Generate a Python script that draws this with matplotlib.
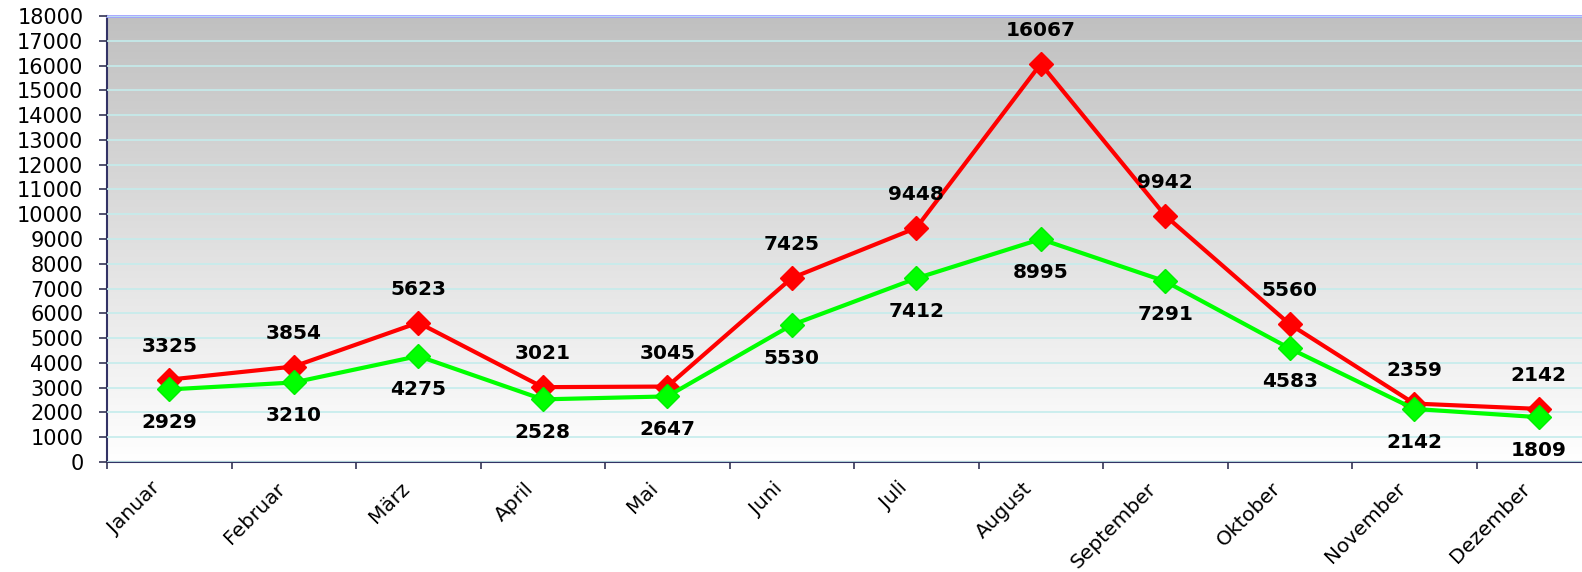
import matplotlib
matplotlib.use("Agg")
import matplotlib.pyplot as plt
import matplotlib.transforms as mtransforms
import numpy as np
from matplotlib.colors import LinearSegmentedColormap

months = ["Januar", "Februar", "März", "April", "Mai", "Juni", "Juli",
          "August", "September", "Oktober", "November", "Dezember"]
red_values = [3325, 3854, 5623, 3021, 3045, 7425, 9448, 16067, 9942, 5560, 2359, 2142]
green_values = [2929, 3210, 4275, 2528, 2647, 5530, 7412, 8995, 7291, 4583, 2142, 1809]
y_ticks = list(range(0, 18001, 1000))

plt.rcParams['font.family'] = ['DejaVu Sans']

W, H = 1582, 572
fig = plt.figure(figsize=(W / 100, H / 100), dpi=100)
left, right, top, bottom = 107, 1601, 16, 462
ax = fig.add_axes([left / W, 1 - bottom / H, (right - left) / W, (bottom - top) / H])

n = len(months)
x = np.arange(n) + 0.5
ax.set_xlim(0, n)
ax.set_ylim(0, 18000)

# gradient background
cmap = LinearSegmentedColormap.from_list("bg", ["#ffffff", "#c0c0c0"])
grad = np.linspace(0, 1, 256).reshape(-1, 1)
ax.imshow(grad, extent=[0, n, 0, 18000], origin="lower", aspect="auto",
          cmap=cmap, zorder=0, interpolation="bilinear")

ax.set_yticks(y_ticks)
ax.set_yticklabels([str(v) for v in y_ticks], fontsize=15)
ax.yaxis.grid(True, color="#c4ecec", linewidth=1.2, zorder=1)
ax.set_axisbelow(False)

ax.set_xticks(np.arange(n + 1))
ax.set_xticklabels([])
ax.set_xticks(x, minor=True)
ax.set_xticklabels(months, minor=True, rotation=45, ha="right", va="center",
                   rotation_mode="anchor", fontsize=14.5)
ax.tick_params(axis="x", which="minor", length=0, pad=17)
ax.tick_params(axis="x", which="major", length=5, width=1.2, color="#333355")
ax.tick_params(axis="y", length=6, width=1.2, color="#333355", pad=11)
shift = mtransforms.ScaledTranslation(-12 / 100, 0, fig.dpi_scale_trans)
for lbl in ax.get_xticklabels(minor=True):
    lbl.set_transform(lbl.get_transform() + shift)

for s in ["left", "bottom"]:
    ax.spines[s].set_color("#333366")
    ax.spines[s].set_linewidth(1.5)
ax.spines["top"].set_color("#a0a0ff")
ax.spines["top"].set_linewidth(2)
ax.spines["right"].set_visible(False)

ax.plot(x, red_values, color="#ff0000", lw=3, marker="D", ms=12,
        markeredgecolor="#ff0000", zorder=4, clip_on=False)
ax.plot(x, green_values, color="#00ff00", lw=3, marker="D", ms=12,
        markeredgecolor="#00ee00", zorder=5, clip_on=False)

for xi, v in zip(x, red_values):
    ax.annotate(str(v), (xi, v), xytext=(0, 24), textcoords="offset points",
                ha="center", va="center", fontsize=14.5, fontweight="bold", zorder=6)
for xi, v in zip(x, green_values):
    ax.annotate(str(v), (xi, v), xytext=(0, -24), textcoords="offset points",
                ha="center", va="center", fontsize=14.5, fontweight="bold", zorder=6)

fig.savefig("out.png", dpi=100)
